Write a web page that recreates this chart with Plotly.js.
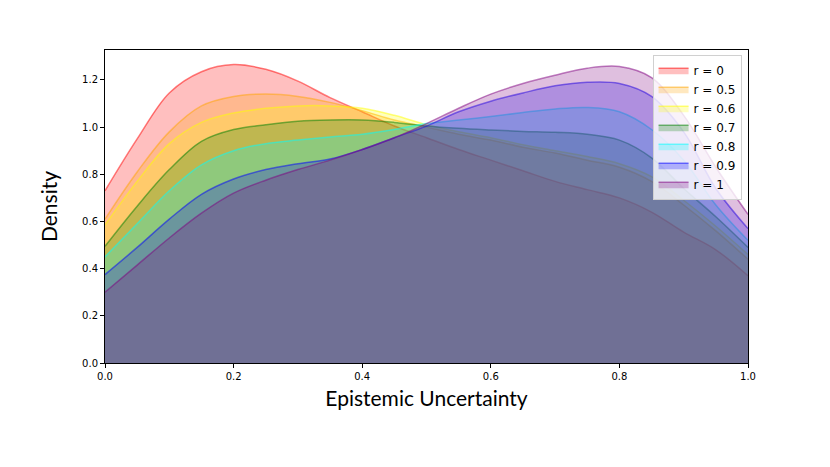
<!DOCTYPE html>
<html>
<head>
<meta charset="utf-8">
<script src="https://cdn.plot.ly/plotly-3.0.1.min.js"></script>
<style>
  body { margin: 0; background: #fff; }
  #kdeChart { width: 830px; height: 467px; }
</style>
</head>
<body>
<div id="kdeChart"></div>
<script>
// epistemic uncertainty grid
const xGrid = [0, 0.05, 0.1, 0.15, 0.2, 0.25, 0.3, 0.35, 0.4, 0.45, 0.5,
               0.55, 0.6, 0.65, 0.7, 0.75, 0.8, 0.85, 0.9, 0.95, 1.0];

const seriesNames = ['r = 0', 'r = 0.5', 'r = 0.6', 'r = 0.7', 'r = 0.8', 'r = 0.9', 'r = 1'];

// density values
const densR0  = [0.73, 0.95, 1.145, 1.235, 1.265, 1.245, 1.195, 1.125, 1.065, 1.005, 0.955,
                 0.905, 0.86, 0.815, 0.77, 0.735, 0.70, 0.64, 0.555, 0.48, 0.37];
const densR05 = [0.61, 0.81, 0.98, 1.09, 1.13, 1.14, 1.13, 1.105, 1.07, 1.03, 1.00,
                 0.97, 0.945, 0.915, 0.89, 0.86, 0.83, 0.77, 0.67, 0.56, 0.44];
const densR06 = [0.585, 0.77, 0.93, 1.02, 1.06, 1.08, 1.09, 1.09, 1.08, 1.05, 1.01,
                 0.98, 0.955, 0.925, 0.90, 0.875, 0.845, 0.79, 0.69, 0.58, 0.46];
const densR07 = [0.495, 0.665, 0.82, 0.94, 0.99, 1.01, 1.025, 1.03, 1.03, 1.02, 1.005,
                 0.995, 0.988, 0.982, 0.978, 0.97, 0.945, 0.87, 0.74, 0.62, 0.49];
const densR08 = [0.45, 0.59, 0.73, 0.84, 0.90, 0.93, 0.945, 0.958, 0.97, 0.99, 1.015,
                 1.03, 1.045, 1.062, 1.077, 1.083, 1.065, 0.99, 0.86, 0.67, 0.52];
const densR09 = [0.375, 0.49, 0.61, 0.715, 0.78, 0.82, 0.845, 0.865, 0.905, 0.955, 1.005,
                 1.065, 1.11, 1.145, 1.175, 1.19, 1.185, 1.13, 0.98, 0.74, 0.57];
const densR1  = [0.30, 0.415, 0.53, 0.635, 0.72, 0.775, 0.82, 0.86, 0.905, 0.955, 1.015,
                 1.08, 1.14, 1.185, 1.22, 1.25, 1.257, 1.21, 1.05, 0.83, 0.63];

const allDens = [densR0, densR05, densR06, densR07, densR08, densR09, densR1];
const colors = ['255,0,0', '255,165,0', '255,255,0', '0,128,0', '0,255,255', '0,0,255', '128,0,128'];

const traces = allDens.map((dens, i) => ({
    x: xGrid,
    y: dens,
    type: 'scatter',
    mode: 'lines',
    name: seriesNames[i],
    fill: 'tozeroy',
    fillcolor: 'rgba(' + colors[i] + ',0.25)',
    line: { color: 'rgba(' + colors[i] + ',0.5)', width: 1.5, shape: 'spline', smoothing: 1 }
}));

const layout = {
    width: 830,
    height: 467,
    margin: { l: 105, r: 82, t: 50, b: 104 },
    paper_bgcolor: '#fff',
    plot_bgcolor: '#fff',
    showlegend: true,
    legend: {
        x: 0.99, y: 0.985, xanchor: 'right', yanchor: 'top',
        bgcolor: 'rgba(255,255,255,0.8)',
        bordercolor: '#d0d0d0', borderwidth: 1,
        font: { family: 'DejaVu Sans', size: 12, color: '#000' },
        tracegroupgap: 0, itemwidth: 30
    },
    xaxis: {
        range: [0, 1],
        tickvals: [0, 0.2, 0.4, 0.6, 0.8, 1.0],
        ticktext: ['0.0', '0.2', '0.4', '0.6', '0.8', '1.0'],
        ticks: 'outside', ticklen: 4, tickcolor: '#000',
        showline: true, linecolor: '#000', linewidth: 1, mirror: true,
        showgrid: false, zeroline: false,
        tickfont: { family: 'DejaVu Sans', size: 10, color: '#000' },
        title: { text: 'Epistemic Uncertainty', font: { family: 'Lato', size: 21, color: '#000' }, standoff: 10 }
    },
    yaxis: {
        range: [0, 1.327],
        tickvals: [0, 0.2, 0.4, 0.6, 0.8, 1.0, 1.2],
        ticktext: ['0.0', '0.2', '0.4', '0.6', '0.8', '1.0', '1.2'],
        ticks: 'outside', ticklen: 4, tickcolor: '#000',
        showline: true, linecolor: '#000', linewidth: 1, mirror: true,
        showgrid: false, zeroline: false,
        tickfont: { family: 'DejaVu Sans', size: 10, color: '#000' },
        title: { text: 'Density', font: { family: 'Lato', size: 21, color: '#000' }, standoff: 18 }
    }
};

Plotly.newPlot('kdeChart', traces, layout, { staticPlot: true });
</script>
</body>
</html>
